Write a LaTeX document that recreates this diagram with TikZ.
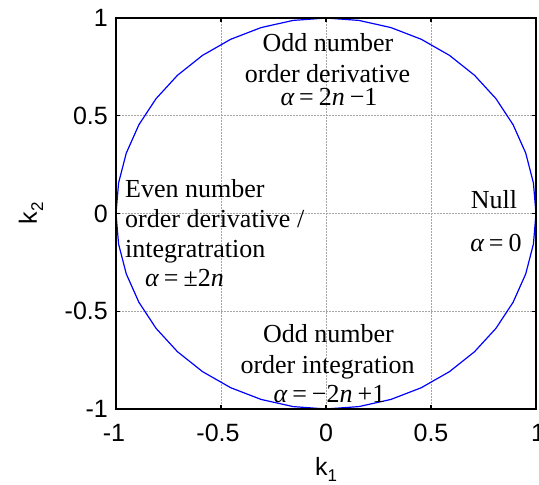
\documentclass[tikz,border=0pt]{standalone}
\usepackage{fontspec}
\setmainfont{Liberation Serif}
\newfontfamily\arialfont{Liberation Sans}
\tikzset{
  gridline/.style={gray!70, line width=0.7pt, dash pattern=on 1.5pt off 1.5pt},
  axisbox/.style={black, line width=1.6pt},
  tickmark/.style={black, line width=1.2pt},
  curve/.style={blue, line width=1.2pt, line join=round},
  ticklbl/.style={font=\arialfont\fontsize{25}{25}\selectfont, inner sep=0pt},
  regionlbl/.style={font=\fontsize{26}{30}\selectfont, inner sep=0pt, anchor=base},
  regionlblw/.style={font=\fontsize{26}{30}\selectfont, inner sep=0pt, anchor=base west}
}
\newcommand{\mvar}[1]{{\itshape #1}}
\newcommand{\msp}{\hspace{5pt}}
\begin{document}
\begin{tikzpicture}[x=1pt,y=-1pt]
\useasboundingbox (0,0) rectangle (539,485);
% grid
\foreach \g in {-0.5,0,0.5}{
  \draw[gridline] ({326+210*\g},18) -- ({326+210*\g},409);
  \draw[gridline] (116,{213.5-195.5*\g}) -- (536,{213.5-195.5*\g});
}
% circle (polygon)
\draw[curve] plot[samples=41, domain=0:360, variable=\t] ({326+210*cos(\t)},{213.5-195.5*sin(\t)}) -- cycle;
% ticks
\foreach \g in {-1,-0.5,0,0.5,1}{
  \draw[tickmark] ({326+210*\g},409) -- ({326+210*\g},405);
  \draw[tickmark] ({326+210*\g},18) -- ({326+210*\g},22);
  \draw[tickmark] (116,{213.5-195.5*\g}) -- (120,{213.5-195.5*\g});
  \draw[tickmark] (536,{213.5-195.5*\g}) -- (532,{213.5-195.5*\g});
}
% axis box
\draw[axisbox] (116,18) rectangle (536,409);
% y tick labels
\node[ticklbl, anchor=east] (y1) at (108,18) {1};
\node[ticklbl, anchor=east] (y05) at (108,116) {0.5};
\node[ticklbl, anchor=east] (y0) at (108,213.5) {0};
\node[ticklbl, anchor=east] (ym05) at (108,311) {-0.5};
\node[ticklbl, anchor=east] (ym1) at (108,409) {-1};
% x tick labels
\node[ticklbl] (xm1) at (114,433) {-1};
\node[ticklbl] (xm05) at (218,433) {-0.5};
\node[ticklbl] (x0) at (326,433) {0};
\node[ticklbl] (x05) at (431,433) {0.5};
\node[ticklbl] (x1) at (538,433) {1};
% axis labels
\node[ticklbl, anchor=base] (k1) at (326,475) {k\raisebox{-6pt}{\fontsize{17}{17}\selectfont 1}};
\node[ticklbl, rotate=90, anchor=base] (k2) at (37,213.5) {k\raisebox{-6pt}{\fontsize{17}{17}\selectfont 2}};
% top region
\node[regionlbl] (t1) at (328,51) {Odd number};
\node[regionlbl] (t2) at (327.5,82) {order derivative};
\node[regionlbl] (t3) at (329,105) {\mvar{α}\msp=\msp2\mvar{n}\msp−1};
% right region
\node[regionlbl] (r1) at (494,208) {Null};
\node[regionlbl] (r2) at (496,251) {\mvar{α}\msp=\msp0};
% left region
\node[regionlblw] (l1) at (125,197) {Even number};
\node[regionlblw] (l2) at (125,227) {order derivative /};
\node[regionlblw] (l3) at (125,257) {integratration};
\node[regionlblw] (l4) at (145,286) {\mvar{α}\msp=\msp±2\mvar{n}};
% bottom region
\node[regionlbl] (b1) at (328.5,342) {Odd number};
\node[regionlbl] (b2) at (327.5,373) {order integration};
\node[regionlbl] (b3) at (329.5,402) {\mvar{α}\msp=\msp−2\mvar{n}\msp+1};
\end{tikzpicture}
\end{document}
